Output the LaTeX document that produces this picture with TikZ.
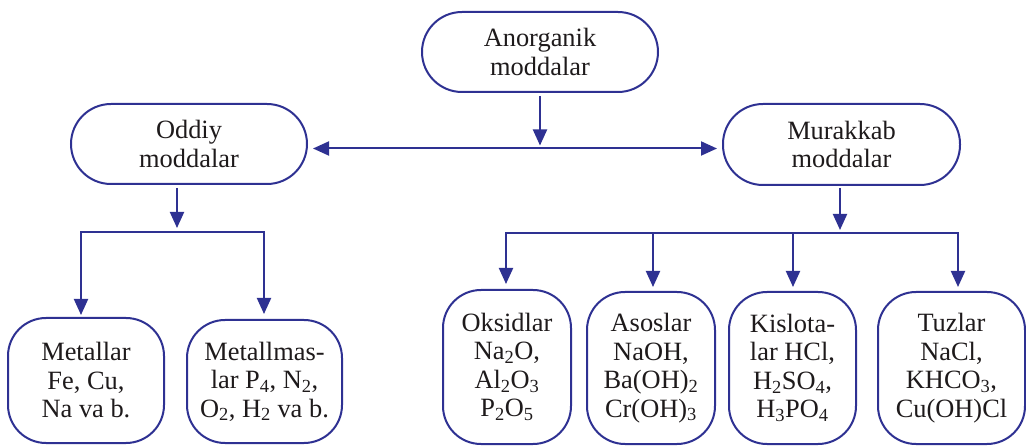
\documentclass[tikz,border=0pt]{standalone}
\usepackage{fontspec}
\setmainfont{Liberation Serif}
\usetikzlibrary{arrows.meta}
\definecolor{dblue}{HTML}{2E3192}
\definecolor{txt}{HTML}{1E1A1B}
\begin{document}
\begin{tikzpicture}[x=1pt,y=-1pt,
  box/.style={draw=dblue, line width=2pt, text=txt, align=center, inner sep=0pt,
    font=\fontsize{26.4}{28.5}\selectfont},
  pill/.style={box, rounded corners=40pt},
  leaf/.style={box, rounded corners=38pt},
  con/.style={draw=dblue, line width=2pt, line join=miter},
  arr/.style={con, -{Triangle[length=16pt,width=14pt]}},
  darr/.style={con, {Triangle[length=16pt,width=14pt]}-{Triangle[length=16pt,width=14pt]}}]
\useasboundingbox (0,0) rectangle (1026,446);

% nodes
\node[pill, minimum width=236pt, minimum height=80pt] (anor) at (540,52) {Anorganik\\moddalar};
\node[pill, minimum width=236pt, minimum height=80pt] (odd) at (189,144) {Oddiy\\moddalar};
\node[pill, minimum width=237pt, minimum height=81pt] (mur) at (841.5,144.5) {Murakkab\\moddalar};

\node[leaf, minimum width=156pt, minimum height=125pt] (met) at (86,380.5) {Metallar\\Fe, Cu,\\Na va b.};
\node[leaf, minimum width=155pt, minimum height=123pt] (nmet) at (264.5,381.5) {Metallmas-\\lar P\textsubscript{4}, N\textsubscript{2},\\O\textsubscript{2}, H\textsubscript{2} va b.};

\node[leaf, minimum width=128pt, minimum height=154pt] (oks) at (507,367) {Oksidlar\\Na\textsubscript{2}O,\\Al\textsubscript{2}O\textsubscript{3}\\P\textsubscript{2}O\textsubscript{5}};
\node[leaf, minimum width=128pt, minimum height=152pt] (aso) at (651,368) {Asoslar\\NaOH,\\Ba(OH)\textsubscript{2}\\Cr(OH)\textsubscript{3}};
\node[leaf, minimum width=127pt, minimum height=152pt] (kis) at (792.5,368) {Kislota-\\lar HCl,\\H\textsubscript{2}SO\textsubscript{4},\\H\textsubscript{3}PO\textsubscript{4}};
\node[leaf, minimum width=147pt, minimum height=152pt] (tuz) at (951.5,368) {Tuzlar\\NaCl,\\KHCO\textsubscript{3},\\Cu(OH)Cl};

% junction coordinates
\coordinate (j) at (540,148.5);
\coordinate (bl) at (177,232);
\coordinate (bl1) at (81,232);
\coordinate (bl2) at (264,232);
\coordinate (br) at (840,233);
\coordinate (br1) at (506,233);
\coordinate (br2) at (653,233);
\coordinate (br3) at (793,233);
\coordinate (br4) at (958,233);

% connectors
\draw[arr, shorten <=3pt, shorten >=3pt] (anor) -- (j);
\draw[darr, shorten <=5pt, shorten >=5pt] (odd.east |- j) -- (mur.west |- j);

\draw[arr, shorten <=3pt, shorten >=4pt] (odd.south -| bl) -- (bl);
\draw[arr, shorten >=2pt] (bl2) -- (bl1) -- (bl1 |- met.north);
\draw[arr, shorten >=5pt] (bl1) -- (bl2) -- (bl2 |- nmet.north);

\draw[arr, shorten <=2pt, shorten >=3pt] (mur.south -| br) -- (br);
\draw[arr, shorten >=5pt] (br4) -- (br1) -- (br1 |- oks.north);
\draw[arr, shorten >=4pt] (br2) -- (br2 |- aso.north);
\draw[arr, shorten >=4pt] (br3) -- (br3 |- kis.north);
\draw[arr, shorten >=4pt] (br1) -- (br4) -- (br4 |- tuz.north);
\end{tikzpicture}
\end{document}
